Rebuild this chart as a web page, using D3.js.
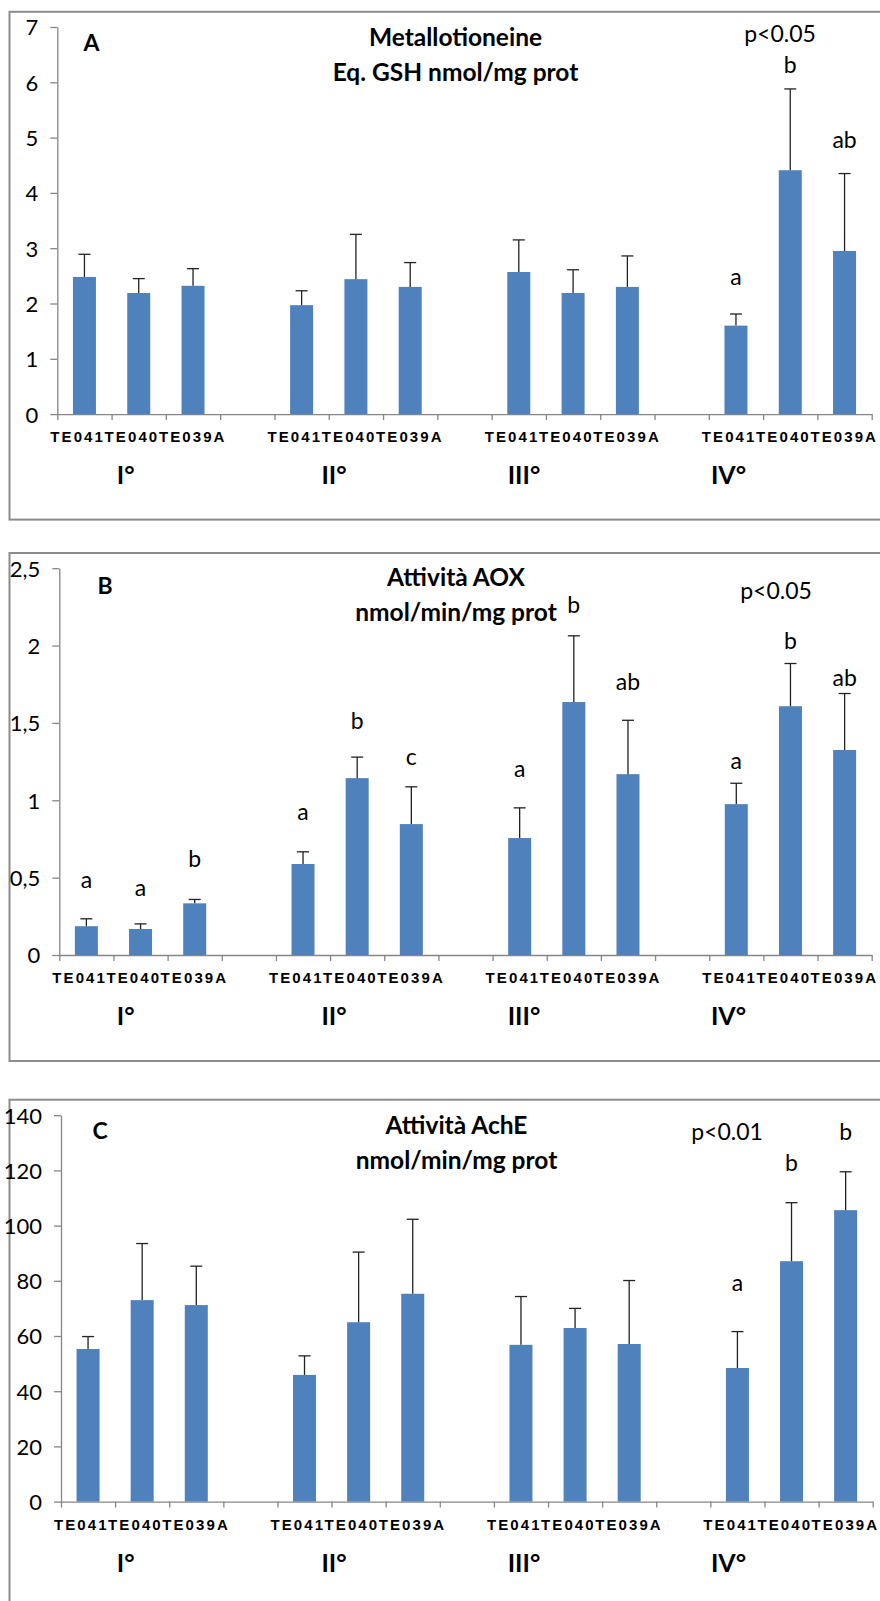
<!DOCTYPE html>
<meta charset="utf-8">
<title>Metallotioneine / AOX / AchE</title>
<style>
html, body { margin: 0; padding: 0; background: #fff; overflow: hidden; }
.num { font: 22px Lato, sans-serif; fill: #000; }
.title { font: bold 24.5px Lato, sans-serif; text-anchor: middle; }
.panel-id { font: bold 23px Lato, sans-serif; text-anchor: middle; }
.note { font: 23px Lato, sans-serif; text-anchor: middle; }
.cat { font: bold 15px "Liberation Sans", Arial, sans-serif; letter-spacing: 2.1px; }
.grp { font: bold 25px Lato, sans-serif; text-anchor: middle; }
.axis path, .axis line { stroke: #868686; stroke-width: 1.3px; }
</style>
<body>
<script src="https://d3js.org/d3.v7.min.js"></script>
<script>

// categories and groups
var categories = ["TE041", "TE040", "TE039A"];
var groups = ["I°", "II°", "III°", "IV°"];

// A - metallotioneine (eq. GSH nmol/mg prot)
var mtMean = [2.48, 2.19, 2.32, 1.97, 2.44, 2.30, 2.57, 2.19, 2.30, 1.60, 4.41, 2.95];
var mtErr  = [0.41, 0.26, 0.31, 0.26, 0.81, 0.44, 0.58, 0.42, 0.56, 0.21, 1.47, 1.40];
var mtLetters  = ["", "", "", "", "", "", "", "", "", "a", "b", "ab"];
var mtLetterAt = [0, 0, 0, 0, 0, 0, 0, 0, 0, 2.33, 6.16, 4.82];
var mtTicks = [0, 1, 2, 3, 4, 5, 6, 7];

// B - AOX activity (nmol/min/mg prot)
var aoxMean = [0.186, 0.168, 0.334, 0.588, 1.143, 0.846, 0.756, 1.635, 1.169, 0.975, 1.608, 1.325];
var aoxErr  = [0.048, 0.033, 0.025, 0.079, 0.136, 0.241, 0.195, 0.428, 0.348, 0.135, 0.276, 0.365];
var aoxLetters  = ["a", "a", "b", "a", "b", "c", "a", "b", "ab", "a", "b", "ab"];
var aoxLetterAt = [0.43, 0.38, 0.57, 0.87, 1.46, 1.23, 1.15, 2.21, 1.71, 1.20, 1.98, 1.74];
var aoxTicks = [0, 0.5, 1, 1.5, 2, 2.5];

// C - AchE activity (nmol/min/mg prot)
var acheMean = [55.3, 73.0, 71.2, 45.9, 65.0, 75.3, 56.8, 62.9, 57.1, 48.4, 87.1, 105.6];
var acheErr  = [4.5, 20.5, 14.1, 6.9, 25.4, 27.0, 17.5, 7.1, 23.0, 13.2, 21.2, 13.9];
var acheLetters  = ["", "", "", "", "", "", "", "", "", "a", "b", "b"];
var acheLetterAt = [0, 0, 0, 0, 0, 0, 0, 0, 0, 76.2, 119.7, 131.0];
var acheTicks = [0, 20, 40, 60, 80, 100, 120, 140];

// italian style decimals (2,5)
var it = d3.formatLocale({decimal: ",", thousands: ".", grouping: [3], currency: ["", " €"]});
var fmt = it.format("~g");

var panels = [
  {id: "A", title: ["Metallotioneine", "Eq. GSH nmol/mg prot"], p: "p<0.05",
   mean: mtMean, err: mtErr, letters: mtLetters, letterAt: mtLetterAt, ticks: mtTicks,
   frame: [11.8, 519.6], plot: [27, 414.1], xr: [57.3, 871.7],
   titleX: 455.5, titleY: [46.3, 81.1], idX: 91.5, idY: 50.7, pX: 780, pY: 42.3},
  {id: "B", title: ["Attività AOX", "nmol/min/mg prot"], p: "p<0.05",
   mean: aoxMean, err: aoxErr, letters: aoxLetters, letterAt: aoxLetterAt, ticks: aoxTicks,
   frame: [553, 1061], plot: [568.2, 955], xr: [59.3, 871.7],
   titleX: 456, titleY: [585.8, 620.6], idX: 105, idY: 594.2, pX: 776, pY: 599.3},
  {id: "C", title: ["Attività AchE", "nmol/min/mg prot"], p: "p<0.01",
   mean: acheMean, err: acheErr, letters: acheLetters, letterAt: acheLetterAt, ticks: acheTicks,
   frame: [1099.7, 1620], plot: [1115.2, 1501.6], xr: [61, 872.7],
   titleX: 456.5, titleY: [1133.5, 1168.7], idX: 100, idY: 1138.7, pX: 727, pY: 1140}
];

var groupX = [125.7, 334, 524, 728.5]; // where the group labels sit

var svg = d3.select("body").append("svg")
    .attr("width", 880)
    .attr("height", 1601);

panels.forEach(function(p) {
  var g = svg.append("g");

  // frame round the panel (runs off the right edge)
  g.append("rect")
      .attr("x", 9.5).attr("y", p.frame[0])
      .attr("width", 900).attr("height", p.frame[1] - p.frame[0])
      .attr("fill", "none").attr("stroke", "#8c8c8c").attr("stroke-width", 2);

  // 15 slots: 4 groups of 3 with an empty slot between them
  var slots = d3.range(15);
  var x = d3.scaleBand().domain(slots).range(p.xr);
  var xb = d3.scaleLinear().domain([0, 15]).range(p.xr);
  var y = d3.scaleLinear().domain([0, d3.max(p.ticks)]).range([p.plot[1], p.plot[0]]);
  var slotOf = function(i) { return Math.floor(i / 3) * 4 + i % 3; };

  // y axis
  g.append("g")
      .attr("class", "axis")
      .attr("transform", "translate(" + p.xr[0] + ",0)")
      .call(d3.axisLeft(y).tickValues(p.ticks).tickFormat(fmt).tickSize(7).tickSizeOuter(0).tickPadding(12))
      .call(function(s) { s.selectAll("text").attr("class", "num").attr("dy", "0.36em"); });

  // x axis, ticks between categories
  g.append("g")
      .attr("class", "axis")
      .attr("transform", "translate(0," + p.plot[1] + ")")
      .call(d3.axisBottom(xb).tickValues(d3.range(16)).tickFormat("").tickSize(6).tickSizeOuter(0));

  // bars
  g.selectAll("rect.bar")
    .data(p.mean)
    .enter().append("rect")
      .attr("class", "bar")
      .attr("x", function(d, i) { return x(slotOf(i)) + x.bandwidth() / 2 - 11.5; })
      .attr("width", 23)
      .attr("y", function(d) { return y(d); })
      .attr("height", function(d) { return y(0) - y(d); })
      .attr("fill", "#4f81bd");

  // error bars (upper only)
  var eb = g.selectAll("g.err")
    .data(p.mean)
    .enter().append("g")
      .attr("class", "err")
      .attr("transform", function(d, i) { return "translate(" + (x(slotOf(i)) + x.bandwidth() / 2) + ",0)"; });
  eb.append("line")
      .attr("x1", 0).attr("x2", 0)
      .attr("y1", function(d) { return y(d); })
      .attr("y2", function(d, i) { return y(d + p.err[i]); })
      .attr("stroke", "#222").attr("stroke-width", 1.3);
  eb.append("line")
      .attr("x1", -6).attr("x2", 6)
      .attr("y1", function(d, i) { return y(d + p.err[i]); })
      .attr("y2", function(d, i) { return y(d + p.err[i]); })
      .attr("stroke", "#222").attr("stroke-width", 1.3);

  // significance letters
  g.selectAll("text.letter")
    .data(p.letters)
    .enter().append("text")
      .attr("class", "note letter")
      .attr("x", function(d, i) { return x(slotOf(i)) + x.bandwidth() / 2; })
      .attr("y", function(d, i) { return y(p.letterAt[i]); })
      .text(function(d) { return d; });

  // category labels
  var cats = [];
  groups.forEach(function(gr, gi) {
    categories.forEach(function(c, ci) { cats.push({slot: gi * 4 + ci, name: c}); });
  });
  g.selectAll("text.cat")
    .data(cats)
    .enter().append("text")
      .attr("class", "cat")
      .attr("x", function(d) { return x(d.slot) - 7; })
      .attr("y", p.plot[1] + 28)
      .text(function(d) { return d.name; });

  // group labels
  g.selectAll("text.grp")
    .data(groups)
    .enter().append("text")
      .attr("class", "grp")
      .attr("x", function(d, i) { return groupX[i]; })
      .attr("y", p.plot[1] + 70)
      .text(function(d) { return d; });

  // titles
  g.selectAll("text.title")
    .data(p.title)
    .enter().append("text")
      .attr("class", "title")
      .attr("x", p.titleX)
      .attr("y", function(d, i) { return p.titleY[i]; })
      .text(function(d) { return d; });

  g.append("text").attr("class", "panel-id")
      .attr("x", p.idX).attr("y", p.idY).text(p.id);
  g.append("text").attr("class", "note")
      .attr("x", p.pX).attr("y", p.pY).text(p.p);
});

</script>
</body>
